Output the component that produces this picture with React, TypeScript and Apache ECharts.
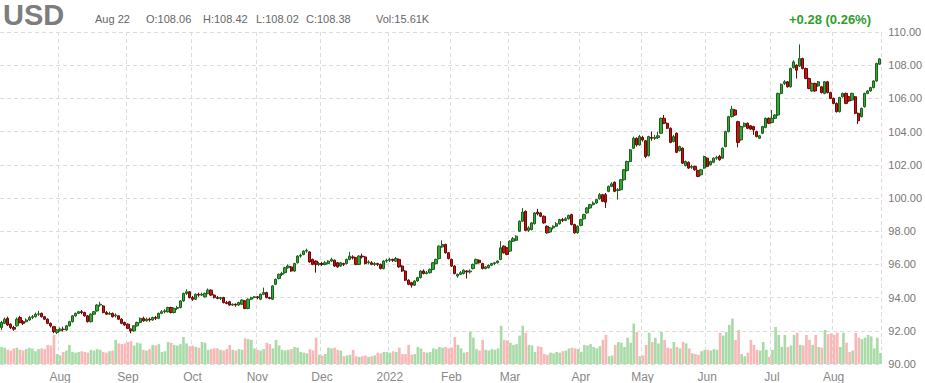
import { useEffect, useRef } from "react";
import * as echarts from "echarts";

const symbol = "USD";
const startDate = "2021-07-06";
const endDate = "2022-08-22";
const holidays = ["2021-09-06", "2021-11-25", "2021-12-24", "2022-01-17", "2022-02-21", "2022-04-15", "2022-05-30", "2022-06-20", "2022-07-04"];
const monthNames = ["Jan", "Feb", "Mar", "Apr", "May", "Jun", "Jul", "Aug", "Sep", "Oct", "Nov", "Dec"];
const priceTicks = { min: 90, max: 110, interval: 2 };

// [open, close, low, high]
const candles: number[][] = [
  [92.2, 92.5, 92.05, 92.6], [92.45, 92.7, 92.4, 92.8], [92.75, 92.35, 92.3, 92.85], [92.4, 92.2, 92.1, 92.45], [92.2, 92.1, 92.0, 92.3],
  [92.3, 92.7, 92.25, 92.8], [92.8, 92.5, 92.45, 92.9], [92.55, 92.45, 92.35, 92.65], [92.55, 92.65, 92.5, 92.75], [92.65, 92.8, 92.6, 92.9],
  [92.8, 92.85, 92.7, 92.95], [92.85, 93.0, 92.8, 93.1], [93.0, 93.02, 92.9, 93.2], [93.05, 92.85, 92.8, 93.1], [92.85, 92.7, 92.65, 92.9],
  [92.7, 92.45, 92.4, 92.75], [92.45, 92.3, 92.2, 92.5], [92.25, 91.95, 91.85, 92.3], [91.9, 92.05, 91.8, 92.1], [92.0, 92.1, 91.95, 92.2],
  [92.1, 92.08, 91.95, 92.25], [92.05, 92.3, 92.0, 92.35], [92.3, 92.55, 92.25, 92.6], [92.55, 92.9, 92.5, 92.95], [92.9, 93.05, 92.85, 93.1],
  [93.05, 93.15, 93.0, 93.2], [93.15, 93.1, 93.0, 93.25], [93.1, 92.9, 92.85, 93.15], [92.9, 92.55, 92.5, 92.95], [92.55, 93.0, 92.5, 93.05],
  [93.0, 93.15, 92.95, 93.2], [93.2, 93.55, 93.15, 93.6], [93.55, 93.6, 93.45, 93.75], [93.5, 93.1, 93.05, 93.55], [93.1, 93.0, 92.95, 93.2],
  [93.0, 93.05, 92.95, 93.15], [93.05, 92.85, 92.8, 93.1], [92.9, 92.95, 92.8, 93.05], [92.9, 92.7, 92.65, 92.95], [92.7, 92.45, 92.4, 92.75],
  [92.5, 92.35, 92.3, 92.55], [92.4, 92.15, 92.1, 92.45], [92.1, 92.0, 91.85, 92.15], [92.0, 92.3, 91.95, 92.35], [92.3, 92.5, 92.25, 92.55],
  [92.5, 92.75, 92.45, 92.8], [92.75, 92.6, 92.55, 92.85], [92.6, 92.7, 92.55, 92.8], [92.7, 92.65, 92.55, 92.8], [92.65, 92.8, 92.6, 92.85],
  [92.8, 92.75, 92.65, 92.9], [92.75, 93.05, 92.7, 93.1], [93.05, 93.15, 93.0, 93.25], [93.15, 93.2, 93.05, 93.3], [93.15, 93.4, 93.1, 93.45],
  [93.4, 93.1, 93.05, 93.45], [93.1, 93.35, 93.05, 93.4], [93.35, 93.4, 93.25, 93.5], [93.4, 93.8, 93.35, 93.85], [93.8, 94.25, 93.75, 94.3],
  [94.25, 94.35, 94.15, 94.5], [94.35, 94.0, 93.95, 94.4], [94.0, 93.9, 93.8, 94.1], [93.9, 94.2, 93.85, 94.25], [94.2, 94.15, 94.05, 94.3],
  [94.15, 94.2, 94.1, 94.3], [94.05, 94.25, 94.0, 94.3], [94.25, 94.45, 94.2, 94.55], [94.45, 94.15, 94.1, 94.5], [94.15, 94.0, 93.95, 94.2],
  [94.0, 93.95, 93.9, 94.1], [93.95, 94.0, 93.85, 94.05], [94.0, 93.7, 93.65, 94.05], [93.7, 93.65, 93.6, 93.8], [93.75, 93.55, 93.5, 93.8],
  [93.55, 93.6, 93.5, 93.65], [93.6, 93.55, 93.45, 93.65], [93.55, 93.7, 93.5, 93.75], [93.6, 93.85, 93.55, 93.9], [93.8, 93.35, 93.3, 93.85],
  [93.35, 93.9, 93.3, 93.95], [93.9, 94.0, 93.85, 94.05], [94.0, 94.05, 93.95, 94.1], [94.05, 94.0, 93.9, 94.1], [93.9, 94.2, 93.85, 94.25],
  [94.2, 94.3, 94.15, 94.6], [94.3, 94.0, 93.95, 94.35], [94.0, 93.95, 93.9, 94.05], [93.9, 94.7, 93.85, 94.75], [94.8, 95.1, 94.75, 95.15],
  [95.15, 95.4, 95.1, 95.45], [95.4, 95.45, 95.3, 95.55], [95.5, 95.8, 95.45, 95.85], [95.8, 95.9, 95.75, 96.0], [95.85, 95.6, 95.55, 95.9],
  [95.6, 96.05, 95.55, 96.1], [96.1, 96.5, 96.05, 96.55], [96.5, 96.55, 96.4, 96.65], [96.6, 96.8, 96.55, 96.85], [96.8, 96.85, 96.7, 96.95],
  [96.75, 96.15, 96.1, 96.8], [96.3, 96.0, 95.95, 96.35], [96.2, 96.0, 95.5, 96.25], [96.0, 96.05, 95.9, 96.15], [96.05, 96.0, 95.9, 96.15],
  [96.0, 96.1, 95.95, 96.2], [96.05, 96.2, 96.0, 96.25], [96.2, 96.3, 96.15, 96.4], [96.25, 95.9, 95.85, 96.3], [96.1, 95.85, 95.8, 96.15],
  [95.9, 96.1, 95.85, 96.15], [96.05, 96.0, 95.9, 96.1], [96.05, 96.3, 96.0, 96.35], [96.3, 96.5, 96.25, 96.75], [96.45, 96.4, 96.3, 96.55],
  [96.4, 96.0, 95.95, 96.45], [96.0, 96.5, 95.95, 96.55], [96.5, 96.45, 96.35, 96.65], [96.45, 96.05, 96.0, 96.5], [96.1, 96.15, 96.0, 96.25],
  [96.1, 96.0, 95.95, 96.2], [96.0, 96.05, 95.9, 96.15], [96.05, 96.0, 95.9, 96.1], [96.0, 95.75, 95.7, 96.05], [95.75, 96.2, 95.7, 96.25],
  [96.2, 96.25, 96.1, 96.35], [96.25, 96.3, 96.15, 96.4], [96.3, 96.25, 96.15, 96.35], [96.2, 96.35, 96.15, 96.45], [96.3, 95.85, 95.8, 96.35],
  [95.9, 95.6, 95.55, 95.95], [95.6, 95.05, 95.0, 95.65], [95.05, 94.8, 94.75, 95.1], [94.9, 94.75, 94.6, 94.95], [94.75, 95.0, 94.7, 95.05],
  [95.0, 95.2, 94.95, 95.25], [95.2, 95.6, 95.15, 95.65], [95.6, 95.45, 95.4, 95.7], [95.45, 95.5, 95.4, 95.6], [95.5, 95.7, 95.45, 95.75],
  [95.7, 96.1, 95.65, 96.15], [96.05, 96.3, 96.0, 96.35], [96.35, 97.1, 96.3, 97.15], [97.05, 97.2, 97.0, 97.45], [97.2, 96.7, 96.65, 97.25],
  [96.7, 96.35, 96.3, 96.75], [96.3, 95.9, 95.85, 96.35], [95.9, 95.45, 95.4, 95.95], [95.3, 95.4, 95.2, 95.45], [95.4, 95.5, 95.35, 95.6],
  [95.45, 95.65, 95.4, 95.7], [95.6, 95.55, 95.15, 95.65], [95.55, 95.6, 95.45, 95.7], [95.75, 96.0, 95.7, 96.05], [96.05, 96.3, 96.0, 96.35],
  [96.25, 96.1, 96.05, 96.3], [96.05, 95.75, 95.7, 96.1], [95.75, 95.85, 95.7, 95.9], [95.8, 95.95, 95.75, 96.0], [95.95, 96.05, 95.9, 96.1],
  [96.05, 96.1, 95.95, 96.15], [96.1, 96.2, 96.05, 96.25], [96.3, 97.0, 96.25, 97.4], [97.1, 96.7, 96.65, 97.15], [97.0, 96.6, 96.55, 97.05],
  [96.8, 97.4, 96.75, 97.45], [97.4, 97.55, 97.35, 97.65], [97.45, 97.7, 97.4, 97.75], [98.0, 98.6, 97.95, 98.65], [98.6, 99.15, 98.55, 99.4],
  [99.2, 98.05, 98.0, 99.25], [98.05, 98.2, 97.95, 98.3], [98.1, 98.5, 98.05, 98.55], [98.45, 99.1, 98.4, 99.15], [99.15, 99.05, 98.95, 99.35],
  [99.1, 98.9, 98.85, 99.15], [98.9, 98.5, 98.45, 98.95], [98.3, 97.9, 97.85, 98.35], [97.95, 98.2, 97.9, 98.25], [98.2, 98.3, 98.1, 98.35],
  [98.3, 98.45, 98.25, 98.55], [98.45, 98.7, 98.4, 98.75], [98.7, 98.65, 98.55, 98.8], [98.65, 98.75, 98.6, 98.85], [98.75, 98.95, 98.7, 99.0],
  [99.0, 98.4, 98.35, 99.05], [98.4, 97.9, 97.85, 98.45], [97.9, 98.3, 97.85, 98.35], [98.35, 98.7, 98.3, 98.75], [98.75, 99.0, 98.7, 99.05],
  [99.1, 99.4, 99.05, 99.45], [99.4, 99.6, 99.35, 99.65], [99.6, 99.7, 99.55, 99.8], [99.7, 99.9, 99.65, 99.95], [99.95, 100.2, 99.9, 100.3],
  [100.2, 99.8, 99.75, 100.25], [100.2, 99.75, 99.4, 100.3], [100.4, 100.7, 100.35, 100.75], [100.7, 100.85, 100.65, 100.95], [100.95, 100.4, 100.35, 101.0],
  [100.45, 100.5, 99.9, 100.6], [100.5, 101.1, 100.45, 101.15], [101.1, 101.7, 101.05, 101.75], [101.65, 102.2, 101.6, 102.25], [102.2, 102.9, 102.15, 102.95],
  [103.0, 103.6, 102.95, 103.7], [103.6, 103.2, 103.1, 103.65], [103.2, 103.7, 103.15, 103.8], [103.65, 103.5, 103.4, 103.75], [103.45, 102.5, 102.4, 103.5],
  [102.55, 103.7, 102.5, 103.75], [103.65, 103.6, 103.45, 104.0], [103.6, 103.65, 103.5, 103.8], [103.65, 103.75, 103.55, 104.0], [103.9, 104.8, 103.85, 104.85],
  [104.8, 104.5, 104.45, 105.0], [104.5, 104.2, 104.15, 104.55], [104.2, 103.35, 103.3, 104.25], [103.4, 103.7, 103.35, 103.8], [103.9, 102.75, 102.7, 103.95],
  [102.85, 103.1, 102.8, 103.15], [103.0, 102.1, 102.05, 103.05], [101.95, 102.2, 101.9, 102.25], [102.15, 101.8, 101.75, 102.2], [101.85, 101.9, 101.75, 102.0],
  [101.9, 101.7, 101.65, 101.95], [101.65, 101.3, 101.25, 101.7], [101.4, 101.7, 101.35, 101.75], [101.8, 102.5, 101.75, 102.55], [102.4, 101.9, 101.85, 102.45],
  [102.0, 102.2, 101.95, 102.25], [102.15, 102.4, 102.1, 102.45], [102.4, 102.45, 102.3, 102.55], [102.5, 102.3, 102.25, 102.6], [102.4, 103.0, 102.35, 103.05],
  [103.1, 104.0, 103.05, 104.05], [104.0, 104.9, 103.95, 104.95], [104.9, 105.35, 104.85, 105.55], [105.3, 105.0, 104.95, 105.35], [104.6, 103.35, 103.05, 104.65],
  [103.5, 104.3, 103.45, 104.35], [104.3, 104.5, 104.25, 104.55], [104.5, 104.2, 104.15, 104.55], [104.35, 104.15, 104.1, 104.4], [104.3, 104.1, 103.8, 104.35],
  [104.0, 103.7, 103.65, 104.05], [103.6, 103.75, 103.55, 103.8], [103.9, 104.3, 103.85, 104.35], [104.25, 104.8, 104.2, 104.85], [104.8, 104.5, 104.45, 104.85],
  [104.55, 104.8, 104.5, 105.3], [104.8, 105.0, 104.75, 105.05], [105.0, 106.3, 104.95, 106.35], [106.3, 106.85, 106.25, 106.9], [106.9, 107.0, 106.8, 107.1],
  [107.0, 106.7, 106.65, 107.05], [106.7, 107.8, 106.65, 107.85], [107.85, 108.2, 107.8, 108.3], [108.0, 107.7, 107.2, 108.05], [107.95, 108.4, 107.9, 109.25],
  [108.4, 107.8, 107.75, 108.45], [107.8, 107.2, 107.15, 107.85], [107.2, 106.6, 106.55, 107.25], [106.45, 106.9, 106.4, 106.95], [106.9, 106.45, 106.4, 106.95],
  [106.75, 107.0, 106.7, 107.05], [106.7, 106.35, 106.3, 106.75], [106.3, 107.0, 106.25, 107.05], [107.0, 106.35, 106.3, 107.05], [106.35, 106.0, 105.95, 106.4],
  [106.0, 105.7, 105.65, 106.05], [105.7, 105.2, 105.15, 105.75], [105.2, 106.05, 105.15, 106.1], [106.1, 106.3, 106.05, 106.35], [106.3, 105.7, 105.65, 106.35],
  [106.1, 105.85, 105.8, 106.15], [105.9, 106.3, 105.85, 106.35], [106.1, 105.1, 105.05, 106.15], [105.1, 104.65, 104.45, 105.15], [104.9, 105.4, 104.85, 105.45],
  [105.5, 106.3, 105.45, 106.35], [106.3, 106.45, 106.25, 106.5], [106.45, 106.65, 106.4, 106.7], [106.65, 107.05, 106.6, 107.1], [107.05, 108.1, 107.0, 108.15],
  [108.06, 108.38, 108.02, 108.42],
];

// volume, thousands of contracts
const volumes: number[] = [
  24, 23, 20, 19, 22, 23, 20, 19, 21, 23,
  22, 18, 21, 22, 21, 27, 26, 41, 14, 12,
  17, 19, 27, 17, 16, 17, 18, 17, 16, 20,
  19, 21, 20, 17, 16, 18, 19, 34, 29, 28,
  29, 31, 32, 26, 30, 29, 20, 19, 21, 27,
  26, 28, 17, 18, 31, 30, 27, 26, 28, 38,
  29, 25, 26, 24, 23, 31, 30, 20, 21, 22,
  22, 20, 19, 21, 27, 20, 19, 21, 20, 36,
  35, 34, 22, 20, 19, 21, 30, 28, 22, 34,
  26, 20, 19, 20, 21, 24, 23, 17, 16, 15,
  21, 19, 37, 13, 12, 14, 23, 22, 23, 20,
  19, 11, 12, 13, 20, 11, 10, 11, 12, 10,
  11, 12, 16, 15, 17, 17, 16, 18, 17, 23,
  14, 14, 27, 13, 14, 24, 22, 17, 16, 17,
  22, 21, 24, 23, 24, 22, 23, 38, 27, 22,
  16, 17, 45, 37, 21, 19, 34, 20, 19, 21,
  20, 22, 54, 34, 33, 30, 27, 28, 40, 54,
  44, 27, 26, 17, 25, 24, 14, 13, 16, 15,
  17, 16, 18, 19, 22, 23, 22, 21, 17, 27,
  26, 28, 24, 22, 25, 34, 41, 11, 12, 27,
  31, 30, 24, 37, 30, 57, 45, 11, 12, 27,
  44, 31, 37, 29, 45, 34, 23, 22, 31, 24,
  22, 31, 29, 22, 15, 14, 13, 18, 20, 20,
  19, 21, 20, 44, 40, 45, 55, 64, 34, 48,
  14, 11, 16, 34, 27, 20, 19, 31, 20, 10,
  20, 52, 41, 24, 41, 24, 26, 41, 44, 27,
  26, 41, 34, 27, 41, 24, 23, 48, 42, 43,
  41, 44, 24, 44, 30, 17, 19, 44, 37, 35,
  37, 41, 39, 22, 37, 15.61,
];

function tradingDays(): string[] {
  const out: string[] = [];
  const d = new Date(startDate + "T00:00:00Z");
  const end = new Date(endDate + "T00:00:00Z");
  while (d <= end) {
    const wd = d.getUTCDay();
    const iso = d.toISOString().slice(0, 10);
    if (wd !== 0 && wd !== 6 && !holidays.includes(iso)) out.push(iso);
    d.setUTCDate(d.getUTCDate() + 1);
  }
  return out;
}

const FONT = '"Liberation Sans", Arial, sans-serif';

export default function App() {
  const ref = useRef<HTMLDivElement>(null);
  useEffect(() => {
    if (!ref.current) return;
    const chart = echarts.init(ref.current, undefined, { renderer: "svg" });
    const dates = tradingDays();
    const isMonthStart = (i: number) => i > 0 && i < dates.length && dates[i].slice(5, 7) !== dates[i - 1].slice(5, 7);
    const n = candles.length;
    const last = candles[n - 1];
    const prevClose = candles[n - 2][1];
    const chg = last[1] - prevClose;
    const pct = (chg / prevClose) * 100;
    const lastDate = dates[dates.length - 1];
    const lastLabel = monthNames[+lastDate.slice(5, 7) - 1] + " " + +lastDate.slice(8, 10);
    const up = "#33a833";
    const down = "#cc1111";
    const volColors = candles.map((c) => (c[1] >= c[0] ? "#a9dba9" : "#f8b8b8"));
    const headerY = 19;
    const small = (text: string, x: number) => ({
      type: "text",
      x,
      y: headerY,
      style: { text, font: `11px ${FONT}`, fill: "#666", textVerticalAlign: "middle" },
    });
    chart.setOption({
      animation: false,
      textStyle: { fontFamily: FONT },
      grid: [
        { left: 0, right: 43, top: 32, bottom: 19 },
        { left: 0, right: 43, bottom: 19, height: 71 },
      ],
      xAxis: [
        {
          type: "category",
          data: dates,
          gridIndex: 0,
          boundaryGap: true,
          axisLine: { show: false },
          axisTick: { show: false },
          axisLabel: {
            interval: (i: number) => isMonthStart(i),
            formatter: (v: string) => (+v.slice(5, 7) === 1 ? v.slice(0, 4) : monthNames[+v.slice(5, 7) - 1]),
            color: "#888",
            fontSize: 12,
            margin: 7,
          },
          splitLine: {
            show: true,
            interval: (i: number) => isMonthStart(i),
            lineStyle: { color: "#dcdcdc", type: [4, 3], width: 1 },
          },
        },
        {
          type: "category",
          data: dates,
          gridIndex: 1,
          boundaryGap: true,
          show: false,
        },
      ],
      yAxis: [
        {
          type: "value",
          gridIndex: 0,
          position: "right",
          min: priceTicks.min,
          max: priceTicks.max,
          interval: priceTicks.interval,
          axisLine: { show: false },
          axisTick: { show: false },
          axisLabel: { formatter: (v: number) => v.toFixed(2), color: "#777", fontSize: 11, margin: 7 },
          splitLine: { show: true, lineStyle: { color: "#dcdcdc", type: [4, 3], width: 1 } },
        },
        { type: "value", gridIndex: 1, min: 0, max: 100, show: false },
      ],
      series: [
        {
          type: "bar",
          xAxisIndex: 1,
          yAxisIndex: 1,
          barWidth: "86%",
          z: 1,
          data: volumes.map((v, i) => ({ value: v, itemStyle: { color: volColors[i] } })),
        },
        {
          type: "candlestick",
          xAxisIndex: 0,
          yAxisIndex: 0,
          z: 3,
          barWidth: 2.8,
          data: candles,
          itemStyle: {
            color: up,
            color0: down,
            borderColor: "#1d601d",
            borderColor0: "#6a0808",
            borderWidth: 1,
          },
          markLine: {
            silent: true,
            symbol: ["none", "none"],
            lineStyle: { opacity: 0 },
            label: {
              show: true,
              position: "end",
              distance: 4,
              formatter: () => last[1].toFixed(2),
              backgroundColor: "#ffff00",
              color: "#333",
              fontSize: 11,
              padding: [1, 2, 1, 2],
            },
            data: [{ yAxis: last[1] }],
          },
        },
      ],
      graphic: [
        {
          type: "text",
          x: 3,
          y: 0,
          style: { text: symbol, font: `bold 29px ${FONT}`, fill: "#7d7d7d", textVerticalAlign: "top" },
        },
        small(lastLabel, 95),
        small("O:" + last[0].toFixed(2), 146),
        small("H:" + last[3].toFixed(2), 203),
        small("L:" + last[2].toFixed(2), 256),
        small("C:" + last[1].toFixed(2), 306),
        small("Vol:" + volumes[volumes.length - 1].toFixed(2) + "K", 376),
        {
          type: "text",
          x: 871,
          y: headerY,
          style: {
            text: (chg >= 0 ? "+" : "") + chg.toFixed(2) + " (" + pct.toFixed(2) + "%)",
            font: `bold 13px ${FONT}`,
            fill: "#2e9e2e",
            textAlign: "right",
            textVerticalAlign: "middle",
          },
        },
      ],
    });
    return () => chart.dispose();
  }, []);
  return <div ref={ref} style={{ position: "absolute", left: 0, top: 0, width: 925, height: 383 }} />;
}
